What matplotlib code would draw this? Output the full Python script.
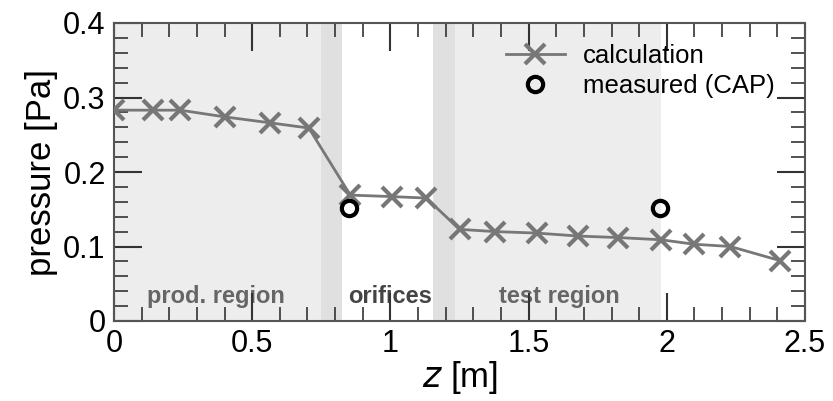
import matplotlib
matplotlib.use('Agg')
import matplotlib.pyplot as plt
from matplotlib.ticker import MultipleLocator

plt.rcParams['font.family'] = ['Liberation Sans', 'DejaVu Sans']

# calculated pressure along z
calc_z = [0.0, 0.14, 0.24, 0.40, 0.565, 0.705, 0.855, 1.005, 1.13,
          1.25, 1.38, 1.53, 1.68, 1.825, 1.98, 2.10, 2.23, 2.41]
calc_p = [0.283, 0.283, 0.283, 0.274, 0.266, 0.259, 0.169, 0.167, 0.165,
          0.123, 0.120, 0.118, 0.114, 0.112, 0.109, 0.103, 0.100, 0.081]
# measured (CAP)
meas_z = [0.85, 1.975]
meas_p = [0.152, 0.152]

# shaded regions: (start, end, colour)
regions = [(0.0, 0.748, '#ededed'), (0.748, 0.824, '#e0e0e0'),
           (1.155, 1.234, '#e0e0e0'), (1.234, 1.979, '#ededed')]
region_labels = ['prod. region', 'orifices', 'test region']
region_label_z = [0.37, 0.997, 1.61]
region_label_col = ['#666666', '#444444', '#666666']

fig = plt.figure(figsize=(8.33, 4.01), dpi=100)
ax = fig.add_axes([114/833, 80/401, 691/833, 298/401])

for a, b, c in regions:
    ax.axvspan(a, b, color=c, lw=0, zorder=0)

for lab, zz, col in zip(region_labels, region_label_z, region_label_col):
    ax.text(zz, 0.033, lab, ha='center', va='center', fontsize=17,
            fontweight='bold', color=col, zorder=1)

ax.plot(calc_z, calc_p, color='#777777', lw=2, marker='x', markersize=15,
        markeredgewidth=3, label='calculation', zorder=3)
ax.plot(meas_z, meas_p, ls='none', marker='o', markersize=11,
        markerfacecolor='none', markeredgecolor='black', markeredgewidth=3,
        label='measured (CAP)', zorder=4)

ax.set_xlim(0, 2.5)
ax.set_ylim(0, 0.4)
ax.xaxis.set_minor_locator(MultipleLocator(0.1))
ax.yaxis.set_minor_locator(MultipleLocator(0.02))
ax.set_xticks([0, 0.5, 1, 1.5, 2, 2.5])
ax.set_xticklabels(['0', '0.5', '1', '1.5', '2', '2.5'])
ax.set_yticks([0, 0.1, 0.2, 0.3, 0.4])
ax.set_yticklabels(['0', '0.1', '0.2', '0.3', '0.4'])
ax.tick_params(which='both', direction='in', top=True, right=True,
               colors='#333333', labelcolor='black', labelsize=22)
ax.tick_params(which='major', length=20, width=1.5, pad=6)
ax.tick_params(which='minor', length=10, width=1.2)
for s in ax.spines.values():
    s.set_color('#555555')
    s.set_linewidth(1.5)

ax.set_xlabel('$z$ [m]', fontsize=25, labelpad=0)
ax.set_ylabel('pressure [Pa]', fontsize=25, labelpad=4)

leg = ax.legend(loc='upper right', bbox_to_anchor=(0.978, 0.98), frameon=False,
                fontsize=18.5, handlelength=2.3, handletextpad=0.7,
                borderaxespad=0.2, labelspacing=0.2)

fig.savefig('out.png', dpi=100)
